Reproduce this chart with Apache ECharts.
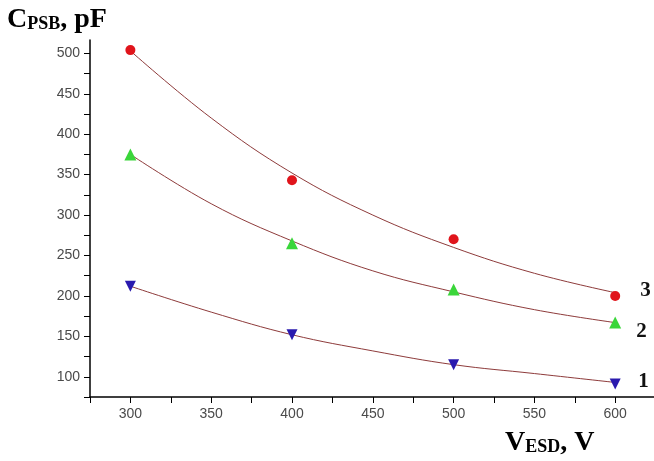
<!DOCTYPE html>
<html>
<head>
<meta charset="utf-8">
<script src="https://cdn.jsdelivr.net/npm/echarts@6/dist/echarts.min.js"></script>
<style>
	html, body { margin: 0; padding: 0; background: #fff; }
	#main { width: 654px; height: 461px; }
</style>
</head>
<body>
<div id="main"></div>
<script>
// measured points
var xPoints = [300, 400, 500, 600];
var pts1 = [212, 152, 115, 91];
var pts2 = [375, 265, 208, 167];
var pts3 = [504, 343, 270, 200];
// fitted curves
var fitX = [300, 350, 400, 450, 500, 550, 600];
var fit1 = [212, 180, 152, 132, 115, 104, 93];
var fit2 = [375, 314, 268, 231, 205, 183, 167];
var fit3 = [503, 420, 352, 300, 260, 228, 204];
var curveNames = ['1', '2', '3'];
// ticks
var xTicks = [275, 300, 325, 350, 375, 400, 425, 450, 475, 500, 525, 550, 575, 600];
var xTickLabels = [300, 350, 400, 450, 500, 550, 600];
var yTicks = [75, 100, 125, 150, 175, 200, 225, 250, 275, 300, 325, 350, 375, 400, 425, 450, 475, 500];
var yTickLabels = [100, 150, 200, 250, 300, 350, 400, 450, 500];

function zip(xs, ys) {
	var out = [];
	for (var i = 0; i < xs.length; i++) {
		out.push([xs[i], ys[i]]);
	}
	return out;
}

var chart = echarts.init(document.getElementById('main'));
var fitColor = '#8e3b3b';
var labelFont = {
	fontFamily: 'Liberation Serif',
	fontWeight: 'bold',
	fontSize: 21,
	color: '#111'
};

function fitSeries(ys, name, off) {
	return {
		name: 'fit' + name,
		type: 'line',
		smooth: 0.4,
		showSymbol: false,
		silent: true,
		data: zip(fitX, ys),
		lineStyle: { color: fitColor, width: 1 },
		endLabel: {
			show: true,
			formatter: name,
			offset: off,
			fontFamily: labelFont.fontFamily,
			fontWeight: labelFont.fontWeight,
			fontSize: labelFont.fontSize,
			color: labelFont.color
		},
		z: 2
	};
}

var titleRich = {
	a: { fontFamily: 'Liberation Serif', fontWeight: 'bold', fontSize: 28, color: '#111', verticalAlign: 'bottom', lineHeight: 30 },
	b: { fontFamily: 'Liberation Serif', fontWeight: 'bold', fontSize: 18, color: '#111', verticalAlign: 'bottom', lineHeight: 30, padding: [0, 0, 1, 0] }
};

var option = {
	animation: false,
	backgroundColor: '#fff',
	grid: {
		left: 90,
		right: 0,
		top: 40,
		bottom: 64,
		containLabel: false,
		outerBoundsMode: 'none'
	},
	xAxis: {
		type: 'value',
		min: 275,
		max: 624,
		axisLine: { show: true, lineStyle: { color: '#000', width: 1.5 } },
		axisTick: { show: true, length: 6, customValues: xTicks, lineStyle: { color: '#000', width: 1 } },
		axisLabel: {
			customValues: xTickLabels,
			margin: 10,
			fontFamily: 'Liberation Sans',
			fontSize: 14,
			color: '#4a4a4a'
		},
		splitLine: { show: false }
	},
	yAxis: {
		type: 'value',
		min: 75,
		max: 516.5,
		axisLine: { show: true, lineStyle: { color: '#000', width: 1.5 } },
		axisTick: { show: true, length: 6, customValues: yTicks, lineStyle: { color: '#000', width: 1 } },
		axisLabel: {
			customValues: yTickLabels,
			margin: 10,
			fontFamily: 'Liberation Sans',
			fontSize: 14,
			color: '#4a4a4a'
		},
		splitLine: { show: false }
	},
	graphic: [{
		type: 'text',
		left: 7,
		top: 6,
		style: {
			text: '{a|C}{b|PSB}{a|, pF}',
			rich: titleRich
		}
	}, {
		type: 'text',
		left: 505,
		top: 429,
		style: {
			text: '{a|V}{b|ESD}{a|, V}',
			rich: titleRich
		}
	}],
	series: [
		fitSeries(fit1, curveNames[0], [15, -1]),
		fitSeries(fit2, curveNames[1], [13, 9]),
		fitSeries(fit3, curveNames[2], [17, -2]),
		{
			name: 'pts1',
			type: 'scatter',
			symbol: 'triangle',
			symbolRotate: 180,
			symbolSize: 11,
			itemStyle: { color: '#2a1aae', opacity: 1 },
			data: zip(xPoints, pts1),
			z: 3
		},
		{
			name: 'pts2',
			type: 'scatter',
			symbol: 'triangle',
			symbolSize: 12,
			itemStyle: { color: '#3ad63a', opacity: 1 },
			data: zip(xPoints, pts2),
			z: 3
		},
		{
			name: 'pts3',
			type: 'scatter',
			symbol: 'circle',
			symbolSize: 10,
			itemStyle: { color: '#e0141b', opacity: 1 },
			data: zip(xPoints, pts3),
			z: 3
		}
	]
};
chart.setOption(option);
window.onresize = function() {
	chart.resize();
};
</script>
</body>
</html>
